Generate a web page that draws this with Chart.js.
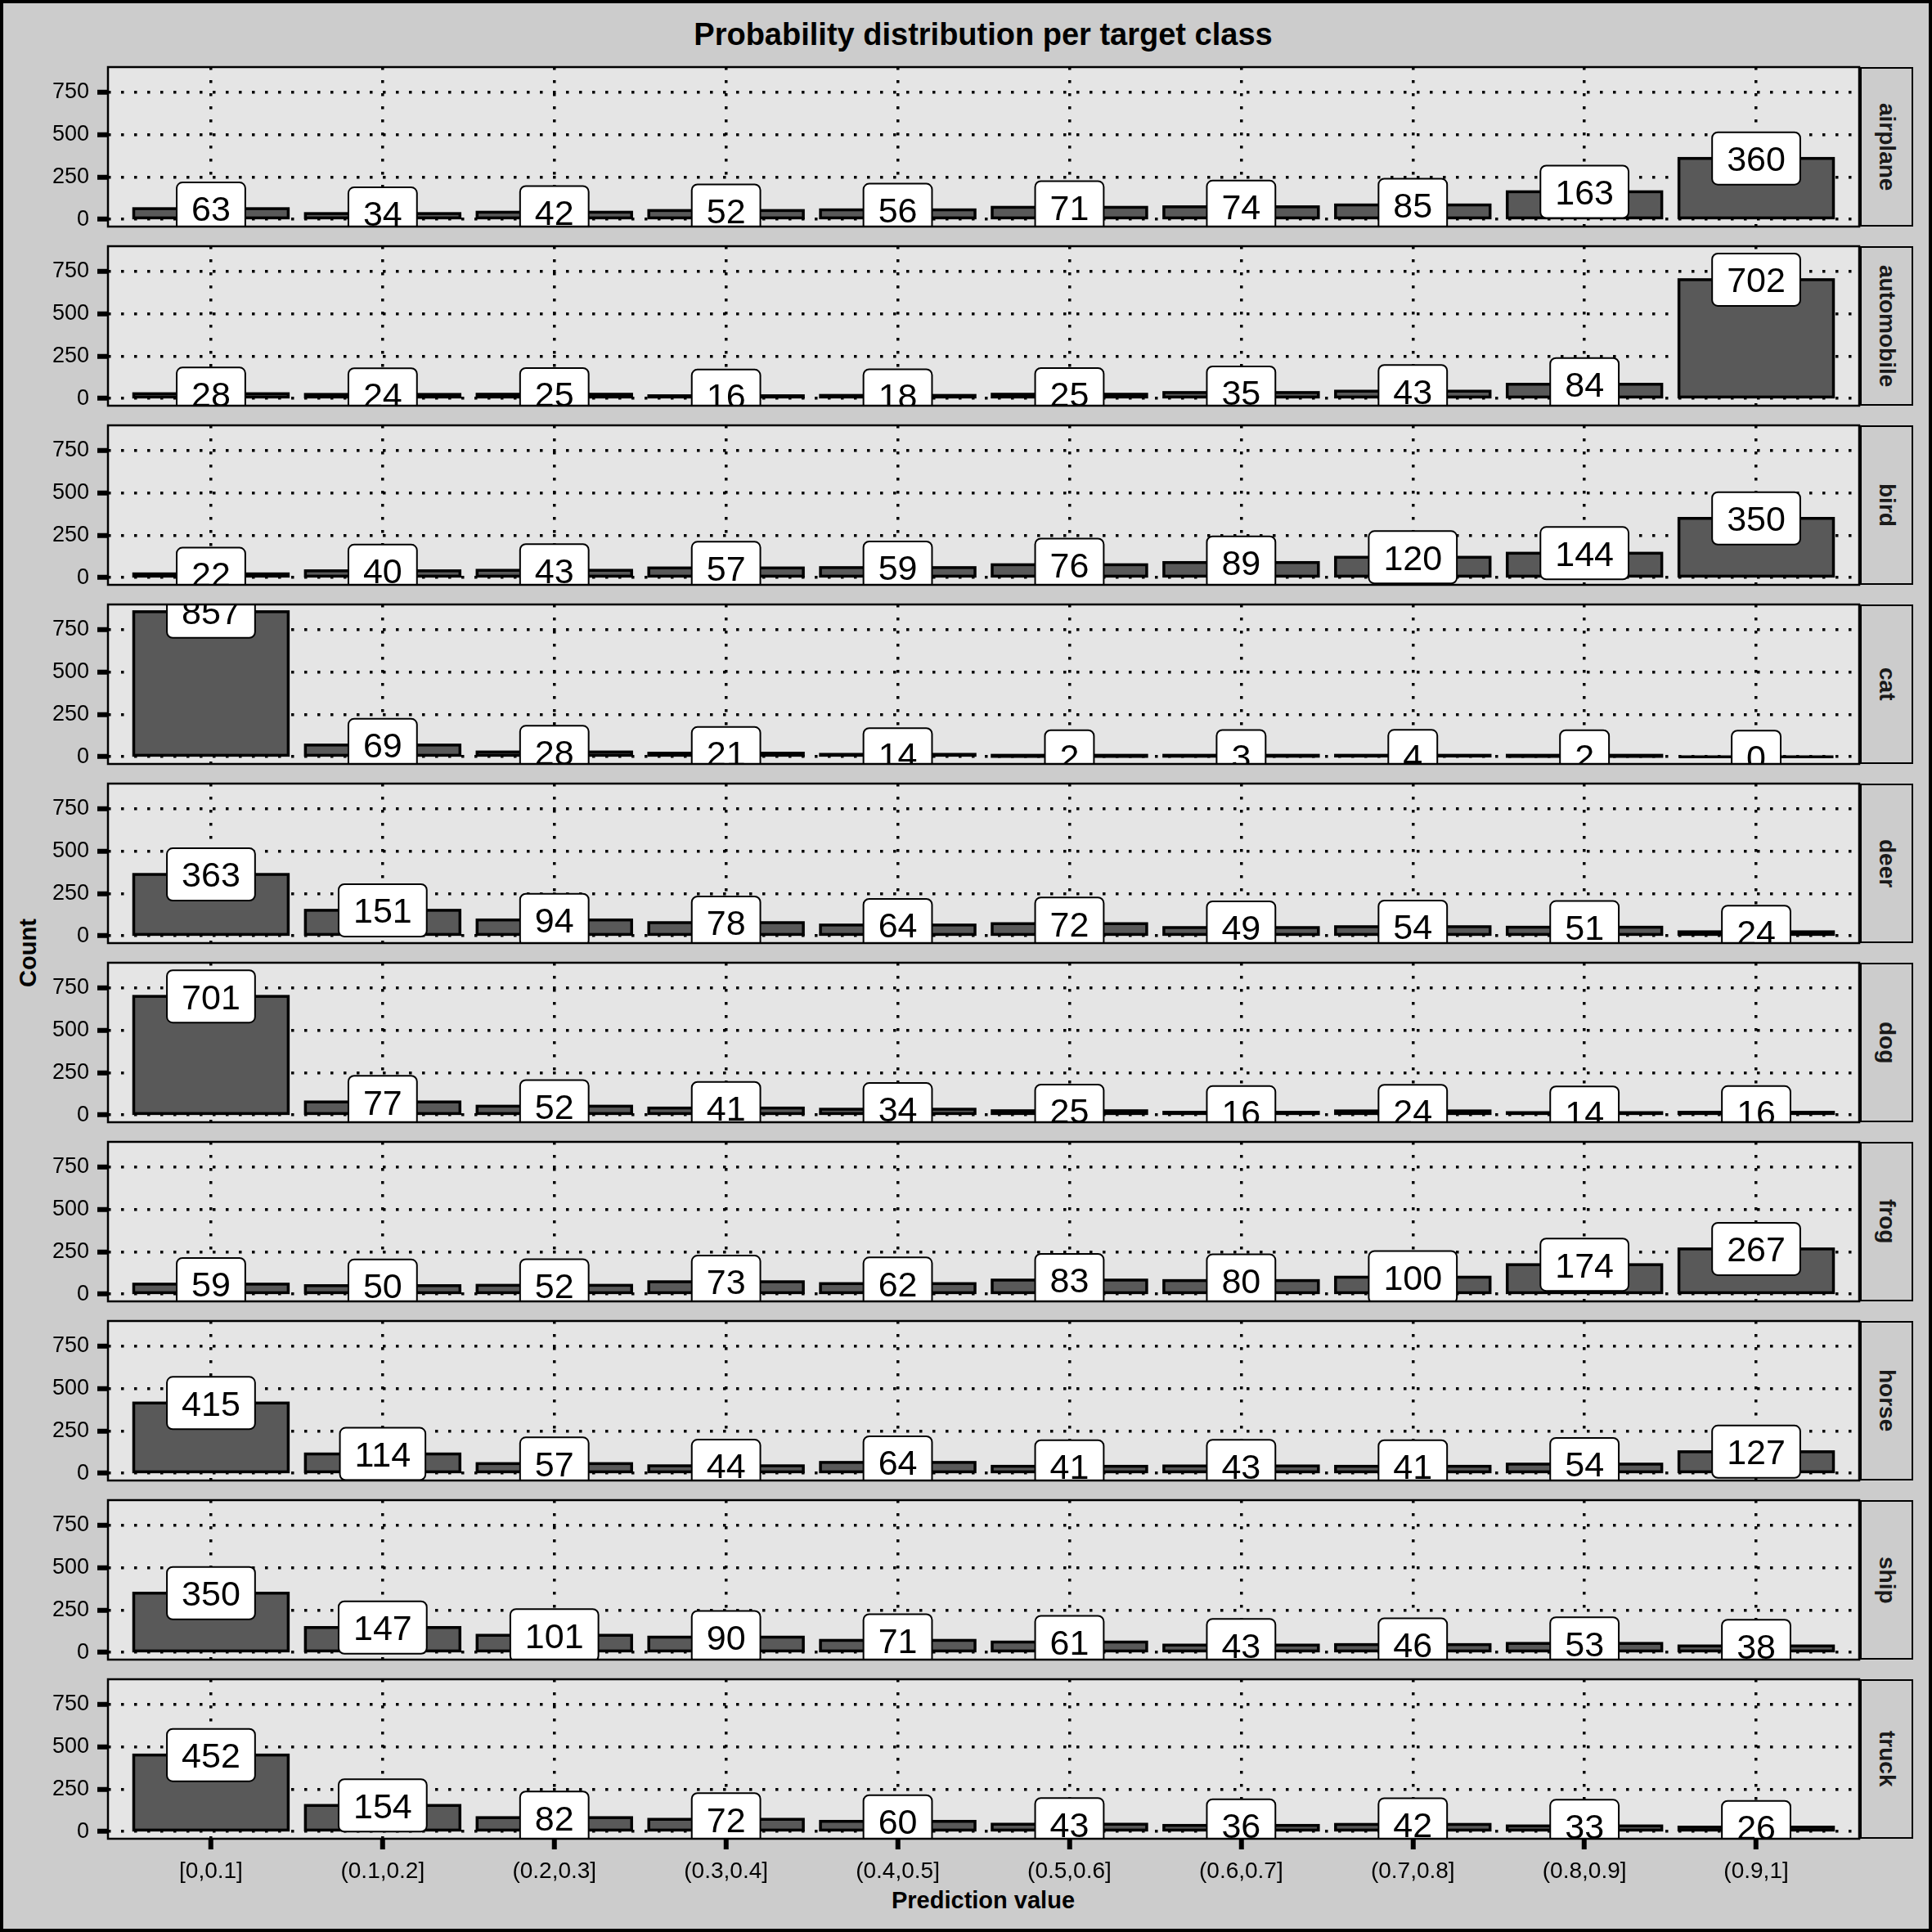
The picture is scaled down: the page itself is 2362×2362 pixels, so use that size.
<!DOCTYPE html>
<html>
<head>
<meta charset="utf-8">
<title>Probability distribution per target class</title>
<script src="https://cdn.jsdelivr.net/npm/chart.js@4.4.1/dist/chart.umd.min.js"></script>
<style>
  body { margin: 0; background: #cccccc; }
  #figure {
    position: relative;
    width: 2362px;
    height: 2362px;
    background: #cccccc;
    font-family: "Liberation Sans", Arial, sans-serif;
    overflow: hidden;
  }
  #figure canvas { position: absolute; left: 0; }
  .frame {
    position: absolute; left: 0; top: 0; width: 2362px; height: 2362px;
    box-sizing: border-box; border: 4px solid #000; pointer-events: none; z-index: 5;
  }
  .txt { position: absolute; transform: translate(-50%, -50%); white-space: nowrap; color: #000; font-weight: bold; }
  .strip {
    position: absolute; box-sizing: border-box; border: 2.5px solid #000;
    background: #cccccc; color: #1a1a1a; font-weight: bold; font-size: 28px;
    writing-mode: vertical-rl; display: flex; align-items: center; justify-content: center;
  }
</style>
</head>
<body>
<div id="figure">
  <div class="frame"></div>
  <div class="txt" style="left:1202px; top:42px; font-size:38px;">Probability distribution per target class</div>
  <div class="txt" style="left:1202px; top:2323px; font-size:29px;">Prediction value</div>
  <div class="txt" style="left:34px; top:1165px; font-size:29px; transform: translate(-50%, -50%) rotate(-90deg);">Count</div>
</div>
<script>
// x categories (probability bins) and facet names
const binLabels = ['[0,0.1]', '(0.1,0.2]', '(0.2,0.3]', '(0.3,0.4]', '(0.4,0.5]',
                   '(0.5,0.6]', '(0.6,0.7]', '(0.7,0.8]', '(0.8,0.9]', '(0.9,1]'];
const classNames = ['airplane', 'automobile', 'bird', 'cat', 'deer',
                    'dog', 'frog', 'horse', 'ship', 'truck'];

// counts per bin, one array per target class
const airplane   = [63, 34, 42, 52, 56, 71, 74, 85, 163, 360];
const automobile = [28, 24, 25, 16, 18, 25, 35, 43, 84, 702];
const bird       = [22, 40, 43, 57, 59, 76, 89, 120, 144, 350];
const cat        = [857, 69, 28, 21, 14, 2, 3, 4, 2, 0];
const deer       = [363, 151, 94, 78, 64, 72, 49, 54, 51, 24];
const dog        = [701, 77, 52, 41, 34, 25, 16, 24, 14, 16];
const frog       = [59, 50, 52, 73, 62, 83, 80, 100, 174, 267];
const horse      = [415, 114, 57, 44, 64, 41, 43, 41, 54, 127];
const ship       = [350, 147, 101, 90, 71, 61, 43, 46, 53, 38];
const truck      = [452, 154, 82, 72, 60, 43, 36, 42, 33, 26];

const yTicks = [0, 250, 500, 750];

const classCounts = [airplane, automobile, bird, cat, deer, dog, frog, horse, ship, truck];

// shared y range: data range 0..857 with 5% expansion (ggplot style)
const yMin = -42.85;
const yMax = 899.85;

// layout in px
const plotLeft = 132;
const plotRight = 2273;
const firstTop = 82;
const panelH = 195;
const panelStep = 219;
const padT = 34;   // must exceed the y-axis label overhang or Chart.js shrinks the area
const padB = 34;
const padR = 17;
const xAxisH = 60;

const FONT = '"Liberation Sans", Arial, sans-serif';

function roundedBox(ctx, x, y, w, h, r) {
    ctx.beginPath();
    ctx.moveTo(x + r, y);
    ctx.arcTo(x + w, y, x + w, y + h, r);
    ctx.arcTo(x + w, y + h, x, y + h, r);
    ctx.arcTo(x, y + h, x, y, r);
    ctx.arcTo(x, y, x + w, y, r);
    ctx.closePath();
}

const panelFrame = {
    id: 'panelFrame',
    beforeDraw(chart) {
        const { ctx, chartArea: a } = chart;
        ctx.save();
        ctx.fillStyle = '#e5e5e5';
        ctx.fillRect(a.left, a.top, a.right - a.left, a.bottom - a.top);
        ctx.restore();
    },
    afterDraw(chart) {
        const { ctx, chartArea: a } = chart;
        ctx.save();
        ctx.strokeStyle = '#000';
        ctx.lineWidth = 2.5;
        ctx.strokeRect(a.left, a.top, a.right - a.left, a.bottom - a.top);
        ctx.restore();
    }
};

// black outline stroked centred on each bar edge, so zero-height bars still show a line
const barOutline = {
    id: 'barOutline',
    afterDatasetsDraw(chart) {
        const { ctx } = chart;
        const meta = chart.getDatasetMeta(0);
        ctx.save();
        ctx.strokeStyle = '#000';
        ctx.lineWidth = 3.5;
        meta.data.forEach(bar => {
            const { x, y, base, width } = bar.getProps(['x', 'y', 'base', 'width'], true);
            ctx.strokeRect(x - width / 2, Math.min(y, base), width, Math.abs(base - y));
        });
        ctx.restore();
    }
};

// white rounded labels centred on each bar's value, clipped to the panel
const countLabels = {
    id: 'countLabels',
    afterDatasetsDraw(chart) {
        const { ctx, chartArea: a } = chart;
        const yScale = chart.scales.y;
        const meta = chart.getDatasetMeta(0);
        const points = chart.data.datasets[0].data;
        const fs = 43;
        ctx.save();
        ctx.beginPath();
        ctx.rect(a.left, a.top, a.right - a.left, a.bottom - a.top);
        ctx.clip();
        ctx.font = fs + 'px ' + FONT;
        ctx.textAlign = 'center';
        ctx.textBaseline = 'alphabetic';
        meta.data.forEach((bar, i) => {
            const text = String(points[i].y);
            const cx = bar.x;
            const cy = yScale.getPixelForValue(points[i].y);
            const w = ctx.measureText(text).width + 36;
            const h = 64;
            roundedBox(ctx, cx - w / 2, cy - h / 2, w, h, 7);
            ctx.fillStyle = '#fff';
            ctx.fill();
            ctx.lineWidth = 2;
            ctx.strokeStyle = '#000';
            ctx.stroke();
            ctx.fillStyle = '#000';
            ctx.fillText(text, cx, cy + fs * 0.358);
        });
        ctx.restore();
    }
};

const figure = document.getElementById('figure');

function makePanel(i) {
    const isBottom = i === classNames.length - 1;
    const top = firstTop + i * panelStep;

    const canvas = document.createElement('canvas');
    canvas.width = plotRight + padR;
    canvas.height = padT + panelH + (isBottom ? xAxisH : padB);
    canvas.style.top = (top - padT) + 'px';
    canvas.style.width = canvas.width + 'px';
    canvas.style.height = canvas.height + 'px';
    figure.appendChild(canvas);

    const strip = document.createElement('div');
    strip.className = 'strip';
    strip.style.left = (plotRight + 1) + 'px';
    strip.style.top = top + 'px';
    strip.style.width = '65px';
    strip.style.height = panelH + 'px';
    strip.textContent = classNames[i];
    figure.appendChild(strip);

    new Chart(canvas, {
        type: 'bar',
        data: {
            datasets: [{
                label: classNames[i],
                data: classCounts[i].map((v, k) => ({ x: k + 1, y: v })),
                backgroundColor: '#595959',
                borderWidth: 0,
                inflateAmount: 0,
                categoryPercentage: 0.9,
                barPercentage: 1
            }]
        },
        options: {
            responsive: false,
            animation: false,
            devicePixelRatio: 1,
            layout: { padding: { top: padT, right: padR, bottom: isBottom ? 0 : padB, left: 0 } },
            plugins: {
                legend: { display: false },
                tooltip: { enabled: false },
                title: { display: false }
            },
            scales: {
                x: {
                    type: 'linear',
                    min: 0.4,
                    max: 10.6,
                    offset: false,
                    afterBuildTicks: axis => { axis.ticks = binLabels.map((_, k) => ({ value: k + 1 })); },
                    afterFit: axis => { axis.height = isBottom ? xAxisH : 0; },
                    grid: {
                        color: '#000',
                        lineWidth: 3.5,
                        offset: false,
                        drawTicks: isBottom,
                        tickLength: 13,
                        tickWidth: 6,
                        tickColor: '#000'
                    },
                    border: { display: false, dash: [3.5, 12.5] },
                    ticks: {
                        display: isBottom,
                        autoSkip: false,
                        maxRotation: 0,
                        padding: 10,
                        color: '#000',
                        font: { family: FONT, size: 28 },
                        callback: v => binLabels[v - 1]
                    }
                },
                y: {
                    min: yMin,
                    max: yMax,
                    afterBuildTicks: axis => { axis.ticks = yTicks.map(v => ({ value: v })); },
                    afterFit: axis => { axis.width = plotLeft; },
                    grid: {
                        color: '#000',
                        lineWidth: 3.5,
                        drawTicks: true,
                        tickLength: 13,
                        tickWidth: 6,
                        tickColor: '#000'
                    },
                    border: { display: false, dash: [3.5, 12.5] },
                    ticks: {
                        padding: 10,
                        color: '#000',
                        font: { family: FONT, size: 27 },
                        callback: v => String(v)
                    }
                }
            }
        },
        plugins: [panelFrame, barOutline, countLabels]
    });
}

classNames.forEach((_, i) => makePanel(i));
</script>
</body>
</html>
